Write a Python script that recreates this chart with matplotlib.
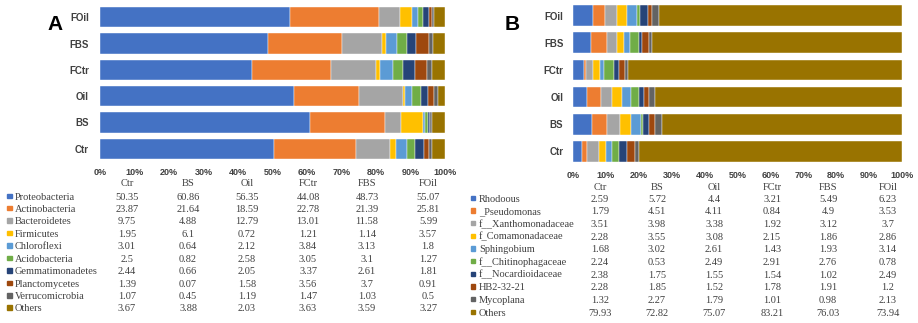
import matplotlib.pyplot as plt
import numpy as np

# samples, bottom to top in the bar charts
samples = ['Ctr', 'BS', 'Oil', 'FCtr', 'FBS', 'FOil']

# Excel-like palette
colors = ['#4472C4', '#ED7D31', '#A5A5A5', '#FFC000', '#5B9BD5',
          '#70AD47', '#264478', '#9E480E', '#636363', '#997300']

# Panel A: phylum level relative abundance (%)
phyla = ['Proteobacteria', 'Actinobacteria', 'Bacteroidetes', 'Firmicutes',
         'Chloroflexi', 'Acidobacteria', 'Gemmatimonadetes', 'Planctomycetes',
         'Verrucomicrobia', 'Others']
phyla_vals = [
    [50.35, 60.86, 56.35, 44.08, 48.73, 55.07],
    [23.87, 21.64, 18.59, 22.78, 21.39, 25.81],
    [9.75, 4.88, 12.79, 13.01, 11.58, 5.99],
    [1.95, 6.1, 0.72, 1.21, 1.14, 3.57],
    [3.01, 0.64, 2.12, 3.84, 3.13, 1.8],
    [2.5, 0.82, 2.58, 3.05, 3.1, 1.27],
    [2.44, 0.66, 2.05, 3.37, 2.61, 1.81],
    [1.39, 0.07, 1.58, 3.56, 3.7, 0.91],
    [1.07, 0.45, 1.19, 1.47, 1.03, 0.5],
    [3.67, 3.88, 2.03, 3.63, 3.59, 3.27],
]

# Panel B: genus level relative abundance (%)
genera = ['Rhodoous', '_Pseudomonas', 'f__Xanthomonadaceae', 'f_Comamonadaceae',
          'Sphingobium', 'f__Chitinophagaceae', 'f__Nocardioidaceae', 'HB2-32-21',
          'Mycoplana', 'Others']
genera_vals = [
    [2.59, 5.72, 4.4, 3.21, 5.49, 6.23],
    [1.79, 4.51, 4.11, 0.84, 4.9, 3.53],
    [3.51, 3.98, 3.38, 1.92, 3.12, 3.7],
    [2.28, 3.55, 3.08, 2.15, 1.86, 2.86],
    [1.68, 3.02, 2.61, 1.43, 1.93, 3.14],
    [2.24, 0.53, 2.49, 2.91, 2.76, 0.78],
    [2.38, 1.75, 1.55, 1.54, 1.02, 2.49],
    [2.28, 1.85, 1.52, 1.78, 1.91, 1.2],
    [1.32, 2.27, 1.79, 1.01, 0.98, 2.13],
    [79.93, 72.82, 75.07, 83.21, 76.03, 73.94],
]

W, H = 918, 323
fig = plt.figure(figsize=(W / 100, H / 100), dpi=100)


def px_axes(x0, y0, x1, y1):
    # pixel box (top-left origin) -> figure axes
    return fig.add_axes([x0 / W, 1 - y1 / H, (x1 - x0) / W, (y1 - y0) / H])


def fx(x):
    return x / W


def fy(y):
    return 1 - y / H


def stacked(ax, vals, ypad):
    y = np.arange(len(samples))
    left = np.zeros(len(samples))
    for row, c in zip(vals, colors):
        row = np.array(row)
        ax.barh(y, row, left=left, height=0.76, color=c,
                edgecolor='white', linewidth=0.3)
        left += row
    ax.set_xlim(0, 100)
    ax.set_ylim(-0.5, len(samples) - 0.5)
    ax.set_yticks(y)
    ax.set_yticklabels(samples, fontsize=7, fontweight='bold',
                       color='#404040', family='Liberation Sans')
    ax.set_xticks(np.arange(0, 101, 10))
    ax.set_xticklabels([f'{t}%' for t in range(0, 101, 10)], fontsize=6.5,
                       fontweight='bold', color='#404040', family='Liberation Sans')
    ax.tick_params(length=0)
    ax.tick_params(axis='x', pad=4.5)
    ax.tick_params(axis='y', pad=ypad)
    for s in ax.spines.values():
        s.set_visible(False)


def table(names, vals, sq_x, txt_x, col_x, head_y, row_y0, row_dy):
    for name, cx in zip(samples, col_x):
        fig.text(fx(cx), fy(head_y), name, ha='center', va='center',
                 fontsize=7.5, family='Liberation Serif', color='#404040')
    for i, (name, row) in enumerate(zip(names, vals)):
        yy = row_y0 + i * row_dy
        fig.patches.append(plt.Rectangle((fx(sq_x), fy(yy + 1)), 4.5 / W, 4.5 / H,
                                         color=colors[i], transform=fig.transFigure))
        fig.text(fx(txt_x), fy(yy), name, ha='left', va='center',
                 fontsize=7.5, family='Liberation Serif', color='#404040')
        for v, cx in zip(row, col_x):
            fig.text(fx(cx), fy(yy), str(v), ha='center', va='center',
                     fontsize=7.5, family='Liberation Serif', color='#404040')


# Panel A
axA = px_axes(100, 4, 445, 162)
stacked(axA, phyla_vals, 8)
fig.text(fx(55), fy(25), 'A', ha='center', va='center', fontsize=15,
         fontweight='bold', family='Liberation Sans')
table(phyla, phyla_vals, 7, 15, [127, 188, 247, 308, 367, 428], 184, 197, 12.44)

# Panel B
axB = px_axes(573, 2, 902, 165)
stacked(axB, genera_vals, 7)
fig.text(fx(512), fy(25), 'B', ha='center', va='center', fontsize=15,
         fontweight='bold', family='Liberation Sans')
table(genera, genera_vals, 471, 479, [600, 657, 714, 772, 828, 888], 187, 199, 12.67)

fig.savefig('out.png', dpi=100, facecolor='white')
